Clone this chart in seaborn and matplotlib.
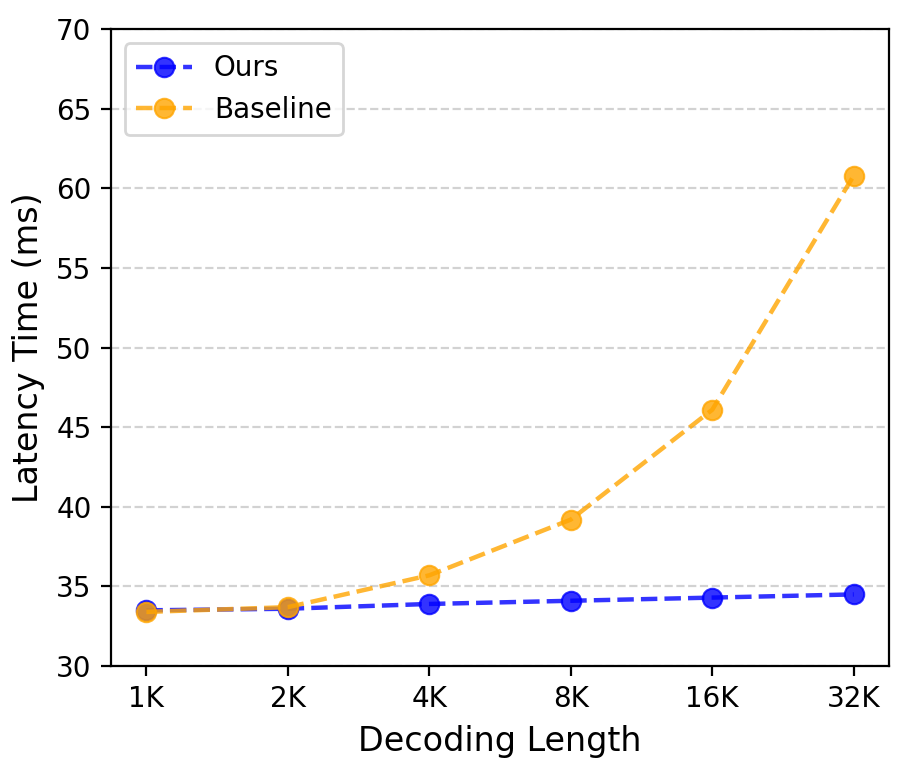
import pandas as pd
import matplotlib
matplotlib.use("Agg")
import matplotlib.pyplot as plt
import seaborn as sns

lengths = ["1K", "2K", "4K", "8K", "16K", "32K"]
ours = [33.5, 33.6, 33.9, 34.1, 34.3, 34.5]
baseline = [33.4, 33.7, 35.7, 39.2, 46.1, 60.8]

df = pd.DataFrame({"length": lengths, "Ours": ours, "Baseline": baseline})

fig, ax = plt.subplots(figsize=(4.55, 3.85), dpi=200)
fig.subplots_adjust(left=0.122, right=0.977, top=0.962, bottom=0.135)

sns.lineplot(data=df, x="length", y="Ours", ax=ax, sort=False, color="blue",
             linestyle="--", marker="o", markersize=7, linewidth=1.6,
             alpha=0.8, markeredgecolor="blue", label="Ours")
sns.lineplot(data=df, x="length", y="Baseline", ax=ax, sort=False, color="orange",
             linestyle="--", marker="o", markersize=7, linewidth=1.6,
             alpha=0.8, markeredgecolor="orange", label="Baseline")

ax.set_xlim(-0.25, 5.25)
ax.set_ylim(30, 70)
ax.set_xlabel("Decoding Length", fontsize=12)
ax.set_ylabel("Latency Time (ms)", fontsize=12)
ax.tick_params(labelsize=10)
ax.grid(axis="y", linestyle="--", color="gray", alpha=0.35, linewidth=0.8)
ax.legend(loc="upper left", fontsize=10)

plt.savefig("out.png", dpi=200)
plt.close()
